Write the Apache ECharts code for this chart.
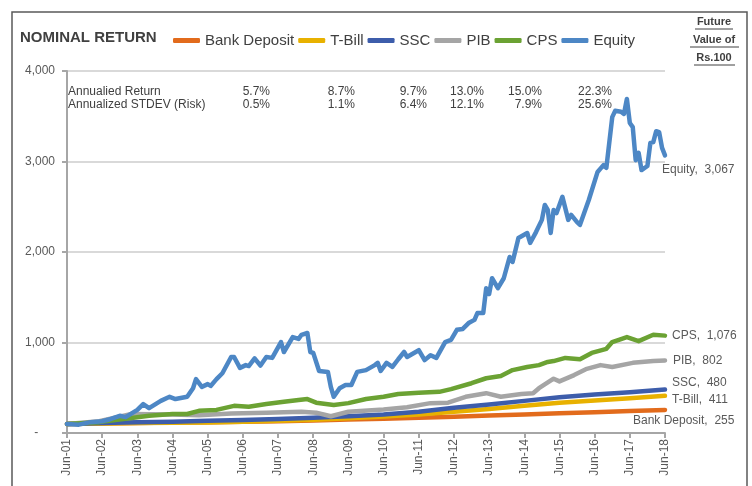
<!DOCTYPE html>
<html>
<head>
<meta charset="utf-8">
<script src="https://cdn.jsdelivr.net/npm/echarts@6/dist/echarts.min.js"></script>
<style>
  html, body { margin: 0; padding: 0; background: #fff; }
  #chart { width: 752px; height: 486px; }
</style>
</head>
<body>
<div id="chart"></div>
<script>
// x = months since Jun-01
const yearLabels = ['Jun-01', 'Jun-02', 'Jun-03', 'Jun-04', 'Jun-05', 'Jun-06', 'Jun-07', 'Jun-08', 'Jun-09',
  'Jun-10', 'Jun-11', 'Jun-12', 'Jun-13', 'Jun-14', 'Jun-15', 'Jun-16', 'Jun-17', 'Jun-18'];

const bankDeposit = [[0, 100], [12, 106], [24, 111], [36, 115], [48, 119], [60, 124], [72, 131], [84, 139], [96, 148],
  [108, 158], [120, 168], [132, 180], [144, 193], [156, 205], [168, 217], [180, 229], [192, 242], [204, 255]];

const tBill = [[0, 100], [12, 106], [24, 110], [36, 113], [48, 117], [60, 125], [72, 135], [84, 147], [96, 163],
  [108, 183], [120, 205], [132, 235], [144, 265], [156, 300], [168, 335], [180, 360], [192, 385], [204, 411]];

const ssc = [[0, 100], [12, 110], [24, 118], [36, 125], [48, 135], [60, 145], [72, 155], [84, 168], [96, 185],
  [108, 205], [120, 235], [132, 280], [144, 315], [156, 355], [168, 395], [180, 425], [192, 450], [204, 480]];

const pib = [[0, 100], [11, 130], [22, 210], [36, 205], [45, 195], [56, 215], [68, 225], [80, 235], [85, 225],
  [90, 185], [96, 235], [108, 260], [116, 285], [124, 330], [130, 335], [136, 400], [143, 440], [148, 400],
  [155, 430], [159, 440], [161, 495], [166, 600], [168, 570], [173, 640], [177, 705], [182, 750], [186, 730],
  [193, 775], [200, 795], [204, 802]];

const cps = [[0, 100], [11, 120], [22, 165], [28, 190], [36, 210], [41, 210], [45, 245], [51, 255], [57, 300],
  [62, 290], [68, 320], [74, 345], [79, 365], [82, 375], [85, 335], [91, 310], [96, 330], [102, 375], [108, 400],
  [113, 430], [120, 445], [127, 455], [131, 485], [138, 550], [143, 605], [148, 630], [152, 695], [157, 730],
  [161, 750], [164, 785], [166, 795], [170, 830], [175, 815], [179, 885], [184, 930], [186, 1005], [191, 1060],
  [195, 1015], [200, 1085], [204, 1076]];

const equity = [[0, 100], [4, 92], [8, 120], [12, 130], [15, 155], [18, 190], [20, 175], [24, 255], [26, 320],
  [28, 275], [32, 355], [35, 400], [37, 375], [41, 400], [43, 495], [44, 595], [46, 510], [48, 540], [49, 520],
  [51, 595], [53, 660], [56, 840], [57, 840], [59, 720], [61, 750], [62, 740], [64, 825], [66, 745], [68, 840],
  [70, 830], [73, 1005], [74, 895], [77, 1060], [79, 1040], [80, 1085], [82, 1105], [83, 895], [84, 885],
  [86, 685], [89, 675], [90, 510], [91, 400], [93, 495], [95, 530], [97, 530], [99, 675], [102, 695], [105, 750],
  [106, 775], [107, 685], [109, 775], [111, 730], [113, 815], [115, 895], [116, 840], [120, 915], [122, 805],
  [124, 860], [126, 830], [129, 1005], [131, 1030], [133, 1140], [135, 1150], [137, 1215], [139, 1250],
  [140, 1325], [142, 1325], [143, 1600], [144, 1535], [145, 1710], [147, 1600], [149, 1710], [151, 1945],
  [152, 1890], [154, 2155], [157, 2210], [158, 2100], [160, 2220], [162, 2355], [163, 2520], [164, 2465],
  [165, 2210], [166, 2465], [167, 2430], [169, 2610], [171, 2355], [172, 2410], [174, 2330], [175, 2300],
  [178, 2575], [181, 2885], [183, 2960], [184, 2930], [186, 3490], [187, 3560], [189, 3550], [190, 3525],
  [191, 3690], [192, 3425], [193, 3380], [194, 3015], [195, 3095], [196, 2905], [198, 2950], [199, 3205],
  [200, 3215], [201, 3335], [202, 3325], [203, 3150], [204, 3067]];

const seriesNames = ['Bank Deposit', 'T-Bill', 'SSC', 'PIB', 'CPS', 'Equity'];
const annualReturn = ['5.7%', '8.7%', '9.7%', '13.0%', '15.0%', '22.3%'];
const annualRisk = ['0.5%', '1.1%', '6.4%', '12.1%', '7.9%', '25.6%'];

const colors = ['#E26B1C', '#E8B100', '#3D5DAB', '#A5A5A5', '#6BA233', '#4D87C5'];
const seriesData = [bankDeposit, tBill, ssc, pib, cps, equity];
// end label nudges
const labelOffsets = [[-40, 11], [-1, 4], [-1, -7], [0, 0], [-1, 0], [-11, 14]];

const FONT = 'Liberation Sans';
const chart = echarts.init(document.getElementById('chart'));

const fmt = v => v.toLocaleString('en-US');

const series = seriesNames.map((name, i) => ({
  name: name,
  type: 'line',
  data: seriesData[i],
  showSymbol: false,
  symbol: 'none',
  color: colors[i],
  lineStyle: { width: 4.5, color: colors[i], cap: 'round', join: 'round' },
  endLabel: {
    show: true,
    formatter: p => p.seriesName + ',  ' + fmt(p.value[1]),
    color: '#595959',
    fontFamily: FONT,
    fontSize: 12,
    offset: labelOffsets[i]
  },
  animation: false
}));

// annotation table
const colRight = [270, 355, 427, 484, 542, 612];
const tableTexts = [
  { type: 'text', left: 68, top: 86, style: { text: 'Annualied Return', font: '12px ' + FONT, fill: '#404040' } },
  { type: 'text', left: 68, top: 99, style: { text: 'Annualized STDEV (Risk)', font: '12px ' + FONT, fill: '#404040' } }
];
annualReturn.forEach((t, i) => {
  tableTexts.push({ type: 'text', x: colRight[i], y: 86, style: { text: t, font: '12px ' + FONT, fill: '#404040', textAlign: 'right' } });
  tableTexts.push({ type: 'text', x: colRight[i], y: 99, style: { text: annualRisk[i], font: '12px ' + FONT, fill: '#404040', textAlign: 'right' } });
});

// "Future Value of Rs.100" underlined
const fvLines = ['Future', 'Value of', 'Rs.100'];
const fvGraphics = [];
fvLines.forEach((t, i) => {
  const y = 16 + i * 18;
  fvGraphics.push({ type: 'text', x: 714, y: y, style: { text: t, font: 'bold 11px ' + FONT, fill: '#404040', textAlign: 'center' } });
});
fvGraphics.push({ type: 'line', shape: { x1: 695, y1: 29, x2: 733, y2: 29 }, style: { stroke: '#404040', lineWidth: 1 } });
fvGraphics.push({ type: 'line', shape: { x1: 690, y1: 47, x2: 739, y2: 47 }, style: { stroke: '#404040', lineWidth: 1 } });
fvGraphics.push({ type: 'line', shape: { x1: 694, y1: 65, x2: 735, y2: 65 }, style: { stroke: '#404040', lineWidth: 1 } });

const option = {
  backgroundColor: '#fff',
  animation: false,
  grid: { left: 67, right: 87, top: 71, bottom: 53 },
  legend: {
    data: seriesNames,
    left: 168,
    top: 28,
    icon: 'roundRect',
    itemWidth: 27,
    itemHeight: 5,
    itemGap: 4,
    textStyle: { fontFamily: FONT, fontSize: 15, color: '#404040' }
  },
  xAxis: {
    type: 'value',
    min: 0,
    max: 204,
    interval: 12,
    axisLine: { lineStyle: { color: '#A6A6A6', width: 2 } },
    axisTick: { show: true, length: 5, lineStyle: { color: '#A6A6A6', width: 2 } },
    splitLine: { show: false },
    axisLabel: {
      rotate: 90,
      margin: 6,
      fontFamily: FONT,
      fontSize: 12,
      color: '#595959',
      formatter: v => yearLabels[Math.round(v / 12)]
    }
  },
  yAxis: {
    type: 'value',
    min: 0,
    max: 4000,
    interval: 1000,
    axisLine: { show: true, lineStyle: { color: '#A6A6A6', width: 2 } },
    axisTick: { show: true, length: 5, lineStyle: { color: '#A6A6A6', width: 2 } },
    splitLine: { lineStyle: { color: '#D9D9D9', width: 2 } },
    axisLabel: {
      margin: 12,
      fontFamily: FONT,
      fontSize: 12,
      color: '#595959',
      formatter: v => (v === 0 ? '-     ' : fmt(v))
    }
  },
  graphic: [
    { type: 'rect', shape: { x: 12, y: 12, width: 735, height: 490 }, style: { fill: 'none', stroke: '#595959', lineWidth: 1.5 }, z: 0 },
    { type: 'text', left: 20, top: 30, style: { text: 'NOMINAL RETURN', font: 'bold 15px ' + FONT, fill: '#404040' } }
  ].concat(tableTexts, fvGraphics),
  series: series
};

chart.setOption(option);
</script>
</body>
</html>
